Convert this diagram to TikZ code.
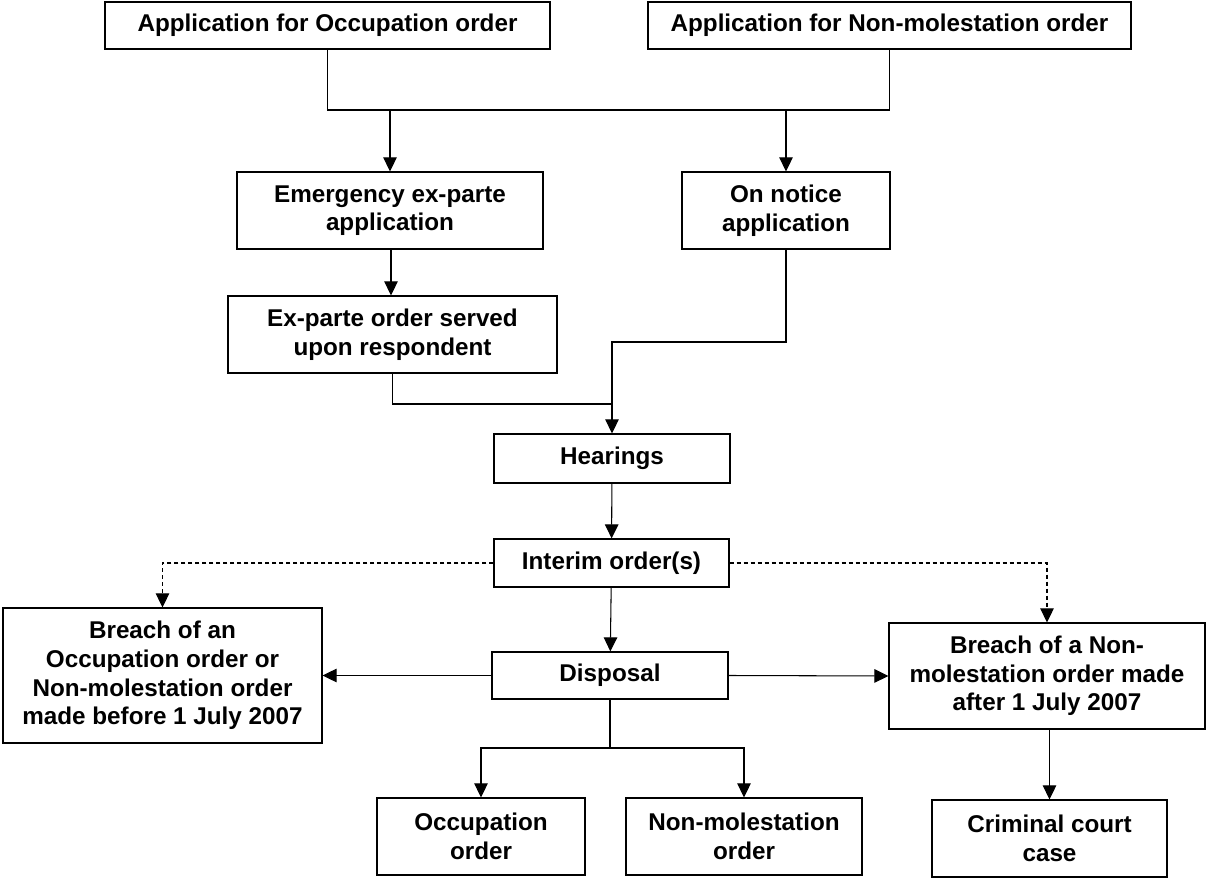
\documentclass[tikz,border=0pt]{standalone}
\usepackage{fontspec}
\setmainfont{Liberation Sans}
\usetikzlibrary{arrows.meta}
\tikzset{
  %Define standard arrow tip
  >={Triangle[length=0.28cm,width=0.27cm]},
  %Define style for boxes
  flowbox/.style={
    rectangle,
    draw=black, line width=0.7pt,
    align=center,
    inner sep=0pt,
    font=\fontsize{13.8}{16.3}\selectfont\bfseries},
  % Define connector styles
  conn/.style={line width=0.6pt},
  dashconn/.style={conn, dash pattern=on 0.08cm off 0.06cm}
}

\begin{document}
\begin{tikzpicture}[x=0.02cm,y=-0.02cm]
  \useasboundingbox (0,0) rectangle (1207,878);
  % applications
  \node[flowbox, minimum width=8.9cm, minimum height=0.94cm] (occapp) at (327.5,25.5) {Application for Occupation order};
  \node[flowbox, minimum width=9.66cm, minimum height=0.94cm] (nmapp) at (889.5,25.5) {Application for Non-molestation order};
  \node[flowbox, minimum width=6.12cm, minimum height=1.54cm] (exparte) at (390,210.5) {Emergency ex-parte\\application};
  \node[flowbox, minimum width=4.16cm, minimum height=1.54cm] (notice) at (786,210.5) {On notice\\application};
  \node[flowbox, minimum width=6.58cm, minimum height=1.54cm] (served) at (392.5,334.5) {Ex-parte order served\\upon respondent};
  % hearings and orders
  \node[flowbox, minimum width=4.72cm, minimum height=0.98cm] (hearing) at (612,458.5) {Hearings};
  \node[flowbox, minimum width=4.7cm, minimum height=0.96cm] (interim) at (611.5,563) {Interim order(s)};
  \node[flowbox, minimum width=4.72cm, minimum height=0.94cm] (disposal) at (610,675.5) {Disposal};
  \node[flowbox, minimum width=6.38cm, minimum height=2.7cm] (breachold) at (162.5,675.5) {Breach of an\\Occupation order or\\Non-molestation order\\made before 1 July 2007};
  \node[flowbox, minimum width=6.32cm, minimum height=2.12cm] (breachnew) at (1047,676) {Breach of a Non-\\molestation order made\\after 1 July 2007};
  \node[flowbox, minimum width=4.16cm, minimum height=1.54cm] (occorder) at (481,836.5) {Occupation\\order};
  \node[flowbox, minimum width=4.72cm, minimum height=1.54cm] (nmorder) at (744,836.5) {Non-molestation\\order};
  \node[flowbox, minimum width=4.7cm, minimum height=1.54cm] (criminal) at (1049.5,838.5) {Criminal court\\case};
  % junction points
  \coordinate (merge) at (600,110);
  \coordinate (joinA) at (612,404);
  \coordinate (joinB) at (612,342);
  \coordinate (split) at (610,748);
  % connectors
  \draw[conn] (occapp.south) |- (merge) -| (nmapp.south);
  \draw[conn,->] (exparte.north |- merge) -- (exparte.north);
  \draw[conn,->] (notice.north |- merge) -- (notice.north);
  \draw[conn,->] (exparte.south -| served) ++(-1.5,0) -- (served.north -| 391,0);
  \draw[conn] (served.south) |- (joinA);
  \draw[conn,->] (notice.south) |- (joinB) -- (hearing.north);
  \draw[conn,->] (hearing) -- (interim);
  \draw[conn,->] (interim) -- (disposal);
  \draw[dashconn,->] (interim.west) -| (breachold.north);
  \draw[dashconn,->] (interim.east) -| (breachnew.north);
  \draw[conn,->] (disposal.west) -- (breachold.east);
  \draw[conn,->] (disposal.east) -- (breachnew.west);
  \draw[conn,->] (disposal.south) -- (split) -| (occorder.north);
  \draw[conn,->] (split) -| (nmorder.north);
  \draw[conn,->] (breachnew.south -| criminal) -- (criminal.north);
\end{tikzpicture}
\end{document}
